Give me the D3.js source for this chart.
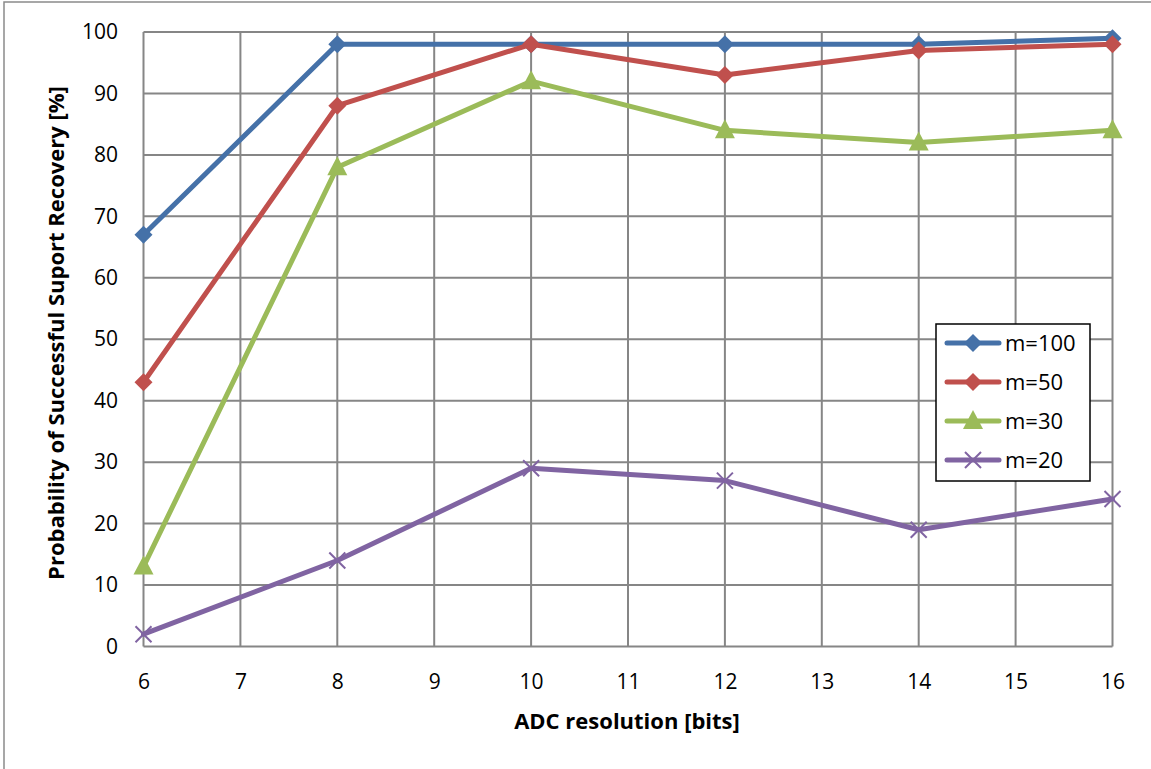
<!DOCTYPE html>
<html><head><meta charset="utf-8">
<script src="https://cdn.jsdelivr.net/npm/d3@7"></script>
<style>body{margin:0;background:#fff}svg{display:block}</style>
</head><body>
<script>
const xValues = [6, 8, 10, 12, 14, 16];
const seriesNames = ["m=100", "m=50", "m=30", "m=20"];
const m100 = [67, 98, 98, 98, 98, 99];
const m50 = [43, 88, 98, 93, 97, 98];
const m30 = [13, 78, 92, 84, 82, 84];
const m20 = [2, 14, 29, 27, 19, 24];
const xTicks = [6, 7, 8, 9, 10, 11, 12, 13, 14, 15, 16];
const yTicks = [0, 10, 20, 30, 40, 50, 60, 70, 80, 90, 100];
const colors = ["#4571A8", "#C0504D", "#9BBB59", "#8064A2"];
const markers = ["diamond", "diamond", "triangle", "cross"];
const xTitle = "ADC resolution [bits]";
const yTitle = "Probability of Successful Suport Recovery [%]";

const series = [m100, m50, m30, m20].map((vals, i) => ({
  name: seriesNames[i], color: colors[i], marker: markers[i],
  pts: vals.map((v, j) => ({x: xValues[j], y: v}))
}));

const W = 1151, H = 769;
const svg = d3.select("body").append("svg").attr("width", W).attr("height", H);
const font = "'Open Sans', sans-serif";

// outer frame
svg.append("rect").attr("x", 4).attr("y", 2).attr("width", W + 10).attr("height", H + 10)
  .attr("fill", "none").attr("stroke", "#8a8a8a").attr("stroke-width", 1.5);

const L = 143.5, R = 1112.5, T = 32, B = 646.5;
const x = d3.scaleLinear().domain([6, 16]).range([L, R]);
const y = d3.scaleLinear().domain([0, 100]).range([B, T]);

const grid = svg.append("g").attr("stroke", "#868686").attr("stroke-width", 2);
grid.selectAll(".gx").data(xTicks).join("line")
  .attr("x1", d => x(d)).attr("x2", d => x(d)).attr("y1", T).attr("y2", B);
grid.selectAll(".gy").data(yTicks).join("line")
  .attr("x1", L).attr("x2", R).attr("y1", d => y(d)).attr("y2", d => y(d));

// axes labels
const xAxis = d3.axisBottom(x).tickValues(xTicks).tickSize(0).tickPadding(0).tickFormat(d3.format("d"));
const gx = svg.append("g").attr("transform", `translate(0,${B})`).call(xAxis);
gx.select(".domain").remove();
gx.selectAll("text").attr("font-family", font).attr("font-size", 21).attr("fill", "#000")
  .attr("y", 689 - B).attr("dy", 0);

const yAxis = d3.axisLeft(y).tickValues(yTicks).tickSize(0).tickPadding(0).tickFormat(d3.format("d"));
const gy = svg.append("g").attr("transform", `translate(118,0)`).call(yAxis);
gy.select(".domain").remove();
gy.selectAll("text").attr("font-family", font).attr("font-size", 21).attr("fill", "#000");

svg.append("text").attr("x", 627).attr("y", 729).attr("text-anchor", "middle")
  .attr("font-family", font).attr("font-weight", "bold").attr("font-size", 22).text(xTitle);
svg.append("text").attr("transform", `translate(64,333) rotate(-90)`)
  .attr("text-anchor", "middle").attr("font-family", font).attr("font-weight", "bold")
  .attr("font-size", 22).text(yTitle);

const line = d3.line().x(d => x(d.x)).y(d => y(d.y));
function drawMarker(g, type, color, cx, cy) {
  if (type === "diamond") {
    g.append("path").attr("d", `M${cx},${cy - 9}L${cx + 9},${cy}L${cx},${cy + 9}L${cx - 9},${cy}Z`).attr("fill", color);
  } else if (type === "triangle") {
    g.append("path").attr("d", `M${cx},${cy - 11}L${cx + 10},${cy + 8}L${cx - 10},${cy + 8}Z`).attr("fill", color);
  } else {
    g.append("path").attr("d", `M${cx - 8},${cy - 8}L${cx + 8},${cy + 8}M${cx - 8},${cy + 8}L${cx + 8},${cy - 8}`)
      .attr("stroke", color).attr("stroke-width", 2).attr("fill", "none");
  }
}
series.forEach(s => {
  const g = svg.append("g");
  g.append("path").datum(s.pts).attr("d", line).attr("fill", "none")
    .attr("stroke", s.color).attr("stroke-width", 5).attr("stroke-linejoin", "round").attr("stroke-linecap", "round");
  s.pts.forEach(p => drawMarker(g, s.marker, s.color, x(p.x), y(p.y)));
});

// legend
const lg = svg.append("g");
lg.append("rect").attr("x", 936).attr("y", 324).attr("width", 154).attr("height", 157)
  .attr("fill", "#fff").attr("stroke", "#000").attr("stroke-width", 1.5);
series.forEach((s, i) => {
  const yy = 343 + i * 39;
  lg.append("line").attr("x1", 947).attr("x2", 999).attr("y1", yy).attr("y2", yy)
    .attr("stroke", s.color).attr("stroke-width", 5).attr("stroke-linecap", "round");
  drawMarker(lg, s.marker, s.color, 973, yy);
  lg.append("text").attr("x", 1005).attr("y", yy).attr("dy", "0.35em")
    .attr("font-family", font).attr("font-size", 22).text(s.name);
});
</script>
</body></html>
